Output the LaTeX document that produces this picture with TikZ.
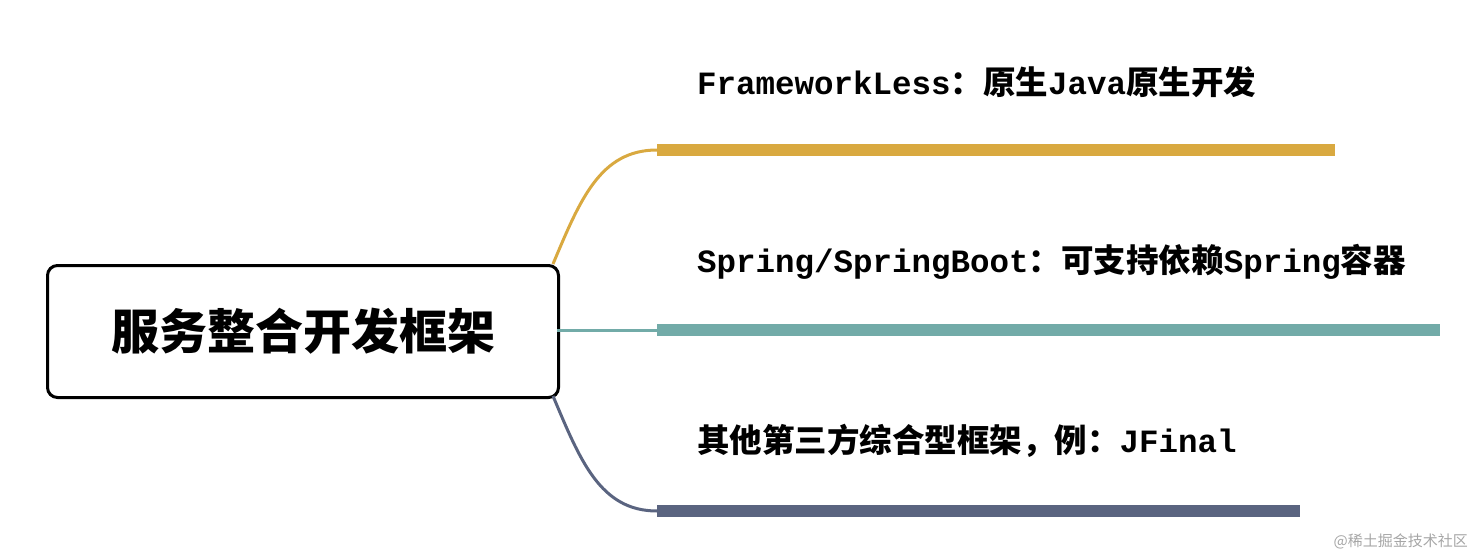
\documentclass[tikz,border=0pt]{standalone}
\usepackage{fontspec}
\setmainfont{Liberation Mono}
\newfontfamily\cjk{Noto Sans CJK SC}
\begin{document}
\begin{tikzpicture}[x=1pt,y=-1pt,
  bar/.style={line width=12pt},
  lbl/.style={anchor=west,inner sep=0pt,font=\fontsize{32.5}{36}\selectfont\bfseries}]
\useasboundingbox (0,0) rectangle (1478,559);
\definecolor{gold}{HTML}{D9A940}
\definecolor{teal}{HTML}{72ABA8}
\definecolor{slate}{HTML}{5A6480}
\node[draw=black,line width=3pt,rounded corners=10pt,minimum width=511pt,minimum height=132pt,anchor=north west,font=\fontsize{48}{52}\selectfont\cjk\bfseries] (root) at (46,264) {服务整合开发框架};
\coordinate (g0) at (657,150); \coordinate (g1) at (1335,150);
\coordinate (t0) at (657,330); \coordinate (t1) at (1440,330);
\coordinate (s0) at (657,511); \coordinate (s1) at (1300,511);
\coordinate (re) at (557,330);
\draw[gold,line width=3pt] (553,264) .. controls (580,200) and (600,150) .. (g0);
\draw[teal,line width=3pt] (re) -- (t0);
\draw[slate,line width=3pt] (553,396) .. controls (580,460) and (600,511) .. (s0);
\draw[gold,bar] (g0) -- (g1);
\draw[teal,bar] (t0) -- (t1);
\draw[slate,bar] (s0) -- (s1);
\node[lbl] (a) at (697,82) {FrameworkLess{\cjk ：原生}Java{\cjk 原生开发}};
\node[lbl] (b) at (697,262) {Spring/SpringBoot{\cjk ：可支持依赖}Spring{\cjk 容器}};
\node[lbl] (c) at (697,441) {{\cjk 其他第三方综合型框架，例：}JFinal};
\node[anchor=east,inner sep=0pt,text=gray!70,font=\fontsize{15}{16}\selectfont\cjk] (w) at (1468,541) {@稀土掘金技术社区};
\end{tikzpicture}
\end{document}
